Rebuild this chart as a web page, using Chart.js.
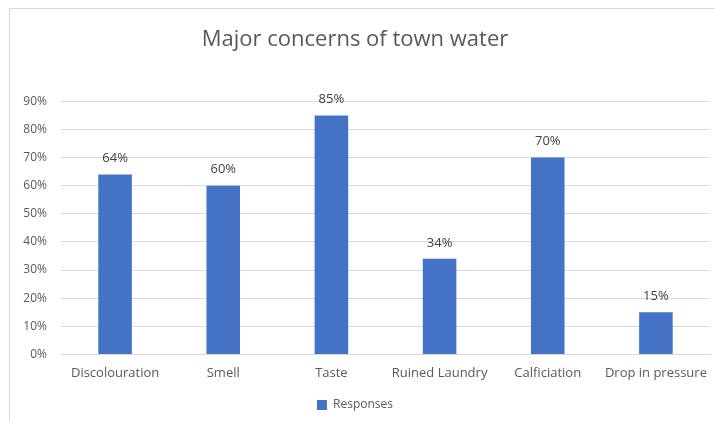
<!DOCTYPE html>
<html>
<head>
<meta charset="utf-8">
<script src="https://cdn.jsdelivr.net/npm/chart.js@4"></script>
<style>
  html, body { margin: 0; padding: 0; background: #fff; }
  #wrap { position: relative; width: 715px; height: 421px; }
  #frame { position: absolute; left: 9px; top: 8px; right: 0; bottom: 0;
           border-left: 1px solid #d9d9d9; border-top: 1px solid #d9d9d9; }
  canvas { position: absolute; left: 0; top: 0; }
</style>
</head>
<body>
<div id="wrap">
  <div id="frame"></div>
  <canvas id="chart" width="715" height="421"></canvas>
</div>
<script>
const categories = ["Discolouration", "Smell", "Taste", "Ruined Laundry", "Calficiation", "Drop in pressure"];
const responses = [0.64, 0.60, 0.85, 0.34, 0.70, 0.15];
const seriesName = "Responses";
const chartTitle = "Major concerns of town water";

const pct = (v) => Math.round(v * 100) + "%";

// draws the value above each bar
const barLabels = {
  id: "barLabels",
  afterDatasetsDraw(chart) {
    const ctx = chart.ctx;
    ctx.save();
    ctx.font = "13px 'Open Sans', sans-serif";
    ctx.fillStyle = "#404040";
    ctx.textAlign = "center";
    ctx.textBaseline = "middle";
    chart.getDatasetMeta(0).data.forEach((bar, i) => {
      ctx.fillText(pct(responses[i]), bar.x, bar.y - 16);
    });
    ctx.restore();
  }
};

new Chart(document.getElementById("chart"), {
  type: "bar",
  data: {
    labels: categories,
    datasets: [{
      label: seriesName,
      data: responses,
      backgroundColor: "#4472c4",
      borderWidth: 0,
      categoryPercentage: 1,
      barPercentage: 0.31
    }]
  },
  options: {
    responsive: false,
    animation: false,
    layout: { padding: { left: 0, right: 5, top: 0, bottom: 0 } },
    plugins: {
      title: {
        display: true,
        text: chartTitle,
        color: "#595959",
        font: { family: "'Open Sans', sans-serif", size: 22, weight: "normal" },
        padding: { top: 27, bottom: 48 }
      },
      legend: {
        position: "bottom",
        labels: {
          color: "#595959",
          font: { family: "'Open Sans', sans-serif", size: 12 },
          boxWidth: 10,
          boxHeight: 10,
          padding: 8
        }
      },
      tooltip: { enabled: false }
    },
    scales: {
      x: {
        afterFit(scale) { scale.height += 7; },
        grid: { display: false },
        border: { color: "#d9d9d9" },
        ticks: {
          color: "#595959",
          font: { family: "'Open Sans', sans-serif", size: 13 },
          maxRotation: 0,
          padding: 3
        }
      },
      y: {
        min: 0,
        max: 0.9,
        afterFit(scale) { scale.width = 61; },
        grid: { color: "#d9d9d9", drawTicks: false },
        border: { display: false },
        ticks: {
          stepSize: 0.1,
          color: "#595959",
          font: { family: "'Open Sans', sans-serif", size: 12 },
          padding: 14,
          callback: (v) => pct(v)
        }
      }
    }
  },
  plugins: [barLabels]
});
</script>
</body>
</html>
